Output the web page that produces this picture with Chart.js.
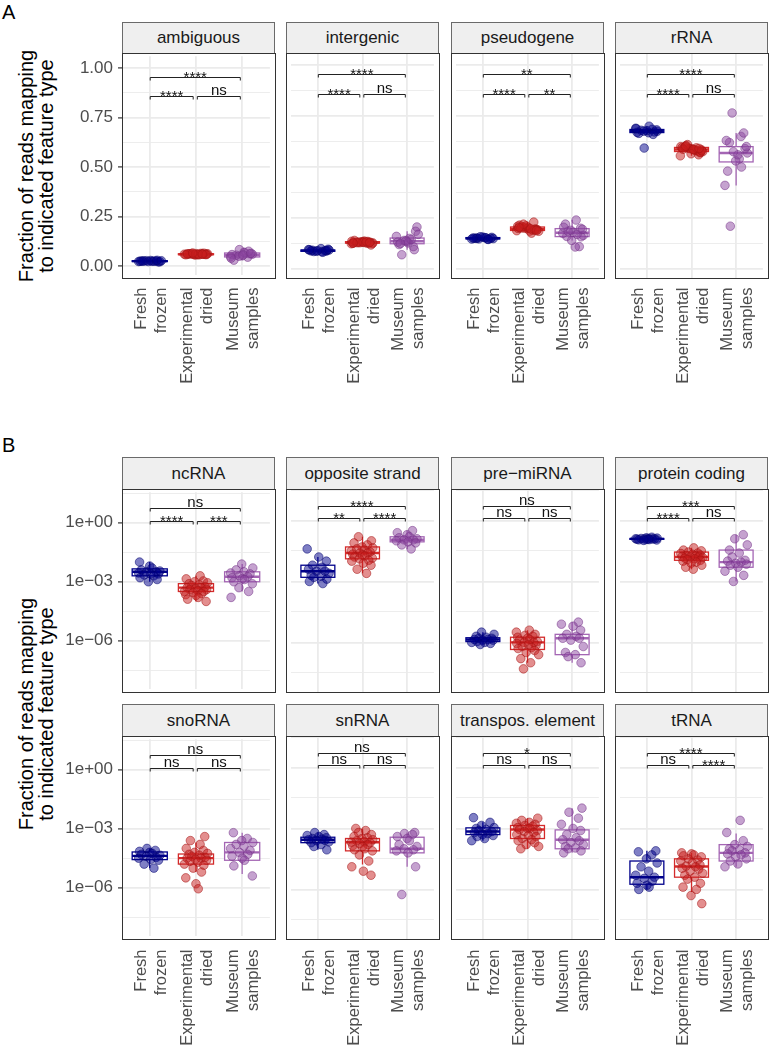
<!DOCTYPE html>
<html><head><meta charset="utf-8">
<script src="https://cdn.jsdelivr.net/npm/chart.js@4"></script>
<style>
html,body{margin:0;padding:0;background:#fff;}
#root{position:relative;width:769px;height:1050px;overflow:hidden;font-family:"Liberation Sans",Arial,sans-serif;}
canvas{position:absolute;}
.strip{position:absolute;box-sizing:border-box;background:#efefef;border:1px solid #6a6a6a;border-bottom:none;color:#1a1a1a;font-size:17px;display:flex;align-items:center;justify-content:center;white-space:nowrap;}
.frame{position:absolute;box-sizing:border-box;border:1.6px solid #333;pointer-events:none;}
.xl{position:absolute;width:120px;height:39px;line-height:19.5px;font-size:16.5px;color:#4d4d4d;text-align:right;transform:rotate(-90deg);white-space:nowrap;}
.ytitle{position:absolute;width:320px;height:40px;text-align:center;font-size:20px;line-height:20px;color:#000;transform:rotate(-90deg);white-space:nowrap;}
.letter{position:absolute;font-size:20px;line-height:20px;color:#000;}
</style></head><body><div id="root"></div>
<script>
// ---------------- DATA ----------------
const groupLines = [['Fresh','frozen'],['Experimental','dried'],['Museum','samples']];
const facetsA = ['ambiguous','intergenic','pseudogene','rRNA'];
const facetsB = ['ncRNA','opposite strand','pre\u2212miRNA','protein coding','snoRNA','snRNA','transpos. element','tRNA'];
const yTicksA = [0, 0.25, 0.5, 0.75, 1];
const yTickLabelsA = ['0.00','0.25','0.50','0.75','1.00'];
const yTicksB = [1e-6, 1e-3, 1];
const yTickLabelsB = ['1e\u221206','1e\u221203','1e+00'];
const yTitle = ['Fraction of reads mapping','to indicated feature type'];
const sigYA = [0.858, 0.956];   // lower brackets, top bracket
const sigYB = [1.26, 5.4];

// points per group: [Fresh frozen, Experimental dried, Museum samples]
// box stats per group: [lower whisker, Q1, median, Q3, upper whisker]
// significance: [fresh vs dried, dried vs museum, fresh vs museum]
const ambiguousPts = [
 [0.024,0.026,0.022,0.027,0.025,0.023,0.028,0.021,0.026,0.025,0.024,0.029,0.023,0.027,0.025],
 [0.060,0.058,0.062,0.061,0.057,0.063,0.059,0.060,0.064,0.056,0.061,0.062,0.058,0.060,0.065,0.059,0.061,0.057,0.063,0.060,0.062,0.058,0.066,0.060],
 [0.055,0.070,0.048,0.062,0.083,0.045,0.058,0.052,0.067,0.030,0.060,0.050,0.075,0.040,0.056,0.064]];
const ambiguousBox = [[0.021,0.023,0.025,0.027,0.029],[0.056,0.058,0.060,0.062,0.066],[0.030,0.046,0.056,0.066,0.083]];
const ambiguousSig = ['****','ns','****'];

const intergenicPts = [
 [0.088,0.092,0.085,0.095,0.090,0.087,0.093,0.089,0.100,0.086,0.091,0.094,0.082,0.090,0.097],
 [0.130,0.126,0.134,0.128,0.132,0.137,0.124,0.131,0.129,0.135,0.127,0.133,0.130,0.140,0.125,0.132,0.128,0.136,0.131,0.118,0.129,0.134,0.127,0.130],
 [0.135,0.150,0.120,0.206,0.140,0.110,0.160,0.128,0.185,0.070,0.145,0.132,0.095,0.138,0.170,0.125]];
const intergenicBox = [[0.082,0.087,0.090,0.093,0.100],[0.118,0.127,0.130,0.134,0.140],[0.095,0.124,0.136,0.152,0.185]];
const intergenicSig = ['****','ns','****'];

const pseudogenePts = [
 [0.150,0.153,0.148,0.155,0.151,0.146,0.157,0.149,0.152,0.154,0.147,0.150,0.158,0.145,0.152],
 [0.196,0.205,0.190,0.210,0.198,0.186,0.215,0.193,0.200,0.230,0.188,0.203,0.195,0.208,0.176,0.199,0.192,0.212,0.185,0.201,0.197,0.220,0.189,0.204],
 [0.180,0.200,0.160,0.240,0.175,0.110,0.190,0.165,0.220,0.108,0.185,0.158,0.205,0.170,0.140,0.195]];
const pseudogeneBox = [[0.145,0.148,0.151,0.154,0.158],[0.176,0.189,0.197,0.206,0.230],[0.140,0.159,0.178,0.198,0.240]];
const pseudogeneSig = ['****','**','**'];

const rRNAPts = [
 [0.675,0.680,0.668,0.690,0.672,0.593,0.685,0.670,0.678,0.700,0.665,0.682,0.676,0.660,0.688],
 [0.585,0.592,0.578,0.600,0.588,0.570,0.605,0.582,0.595,0.560,0.590,0.575,0.598,0.583,0.610,0.572,0.587,0.594,0.565,0.580,0.602,0.586,0.555,0.591],
 [0.569,0.620,0.540,0.765,0.590,0.480,0.650,0.530,0.600,0.210,0.560,0.410,0.667,0.575,0.500,0.630]];
const rRNABox = [[0.660,0.669,0.676,0.684,0.700],[0.555,0.576,0.586,0.596,0.610],[0.410,0.525,0.569,0.600,0.667]];
const rRNASig = ['****','ns','****'];

const ncRNAPts = [
 [1.0e-2,6.3e-3,5.0e-3,4.0e-3,3.5e-3,3.2e-3,3.2e-3,2.8e-3,2.5e-3,2.5e-3,2.2e-3,2.0e-3,1.6e-3,1.3e-3,1.0e-3],
 [2.0e-3,1.4e-3,1.1e-3,1.0e-3,8.9e-4,7.9e-4,7.1e-4,6.3e-4,5.6e-4,5.0e-4,5.0e-4,4.5e-4,4.0e-4,4.0e-4,3.5e-4,3.2e-4,3.2e-4,2.8e-4,2.5e-4,2.2e-4,2.0e-4,1.6e-4,1.3e-4,1.0e-4],
 [7.9e-3,5.0e-3,4.0e-3,3.2e-3,2.8e-3,2.5e-3,2.0e-3,1.8e-3,1.6e-3,1.4e-3,1.3e-3,1.0e-3,7.9e-4,5.0e-4,3.2e-4,1.6e-4]];
const ncRNABox = [[1.0e-3,2.0e-3,3.2e-3,4.5e-3,1.0e-2],[1.0e-4,3.2e-4,5.0e-4,8.0e-4,2.0e-3],[3.2e-4,1.0e-3,1.8e-3,3.2e-3,7.9e-3]];
const ncRNASig = ['****','***','ns'];

const oppositeStrandPts = [
 [4.0e-2,1.6e-2,1.0e-2,6.3e-3,5.0e-3,4.0e-3,3.2e-3,3.2e-3,2.5e-3,2.0e-3,1.8e-3,1.6e-3,1.3e-3,1.0e-3,7.9e-4],
 [0.158,0.1,7.9e-2,6.3e-2,5.0e-2,4.5e-2,4.0e-2,3.5e-2,3.2e-2,2.8e-2,2.5e-2,2.5e-2,2.2e-2,2.0e-2,1.8e-2,1.6e-2,1.4e-2,1.3e-2,1.1e-2,1.0e-2,7.9e-3,6.3e-3,4.0e-3,2.5e-3],
 [0.316,0.251,0.2,0.158,0.141,0.126,0.112,0.112,0.1,8.9e-2,7.9e-2,6.3e-2,4.0e-2]];
const oppositeStrandBox = [[7.9e-4,1.6e-3,3.2e-3,6.3e-3,1.6e-2],[2.5e-3,1.3e-2,2.5e-2,5.0e-2,0.158],[4.0e-2,8.9e-2,0.112,0.158,0.316]];
const oppositeStrandSig = ['**','****','****'];

const preMiRNAPts = [
 [3.2e-6,2.5e-6,2.0e-6,1.8e-6,1.6e-6,1.6e-6,1.4e-6,1.4e-6,1.3e-6,1.3e-6,1.1e-6,1.0e-6,1.0e-6,8.9e-7,7.9e-7],
 [4.0e-6,3.2e-6,2.5e-6,2.2e-6,2.0e-6,1.8e-6,1.6e-6,1.4e-6,1.3e-6,1.1e-6,1.0e-6,1.0e-6,8.9e-7,7.9e-7,7.1e-7,6.3e-7,5.6e-7,5.0e-7,4.0e-7,3.2e-7,2.5e-7,1.6e-7,1.0e-7,5.0e-8],
 [1.0e-5,7.9e-6,6.3e-6,4.0e-6,2.5e-6,2.0e-6,1.6e-6,1.6e-6,1.3e-6,6.3e-7,3.2e-7,2.5e-7,2.0e-7,1.0e-7]];
const preMiRNABox = [[7.9e-7,1.1e-6,1.4e-6,1.7e-6,3.2e-6],[1.0e-7,4.5e-7,1.0e-6,1.8e-6,4.0e-6],[1.0e-7,2.5e-7,1.6e-6,2.5e-6,1.0e-5]];
const preMiRNASig = ['ns','ns','ns'];

const proteinCodingPts = [
 [0.15,0.14,0.135,0.13,0.128,0.126,0.125,0.124,0.122,0.12,0.118,0.115,0.112,0.11,0.105],
 [4.5e-2,3.5e-2,3.2e-2,2.8e-2,2.5e-2,2.4e-2,2.2e-2,2.0e-2,1.9e-2,1.8e-2,1.7e-2,1.6e-2,1.6e-2,1.5e-2,1.4e-2,1.3e-2,1.2e-2,1.1e-2,1.0e-2,8.9e-3,7.9e-3,6.3e-3,5.0e-3,4.0e-3],
 [0.2,0.126,6.3e-2,3.5e-2,2.5e-2,1.6e-2,1.1e-2,1.0e-2,8.9e-3,7.9e-3,7.1e-3,6.3e-3,5.0e-3,3.2e-3,2.0e-3,1.0e-3]];
const proteinCodingBox = [[0.105,0.118,0.124,0.13,0.15],[4.0e-3,1.1e-2,1.6e-2,2.8e-2,4.5e-2],[1.0e-3,5.0e-3,8.9e-3,3.5e-2,0.2]];
const proteinCodingSig = ['****','ns','***'];

const snoRNAPts = [
 [1.0e-4,7.9e-5,7.1e-5,6.3e-5,5.6e-5,5.0e-5,4.5e-5,4.0e-5,3.5e-5,3.2e-5,2.8e-5,2.5e-5,1.6e-5,1.0e-5],
 [4.0e-4,2.5e-4,1.6e-4,1.0e-4,7.9e-5,6.3e-5,5.6e-5,5.0e-5,4.5e-5,4.0e-5,3.5e-5,3.2e-5,3.2e-5,2.8e-5,2.5e-5,2.2e-5,2.0e-5,1.6e-5,1.4e-5,1.0e-5,6.3e-6,3.2e-6,1.6e-6,8.9e-7],
 [6.3e-4,3.2e-4,2.5e-4,2.0e-4,1.6e-4,1.3e-4,1.0e-4,7.9e-5,6.3e-5,5.0e-5,4.0e-5,3.2e-5,2.5e-5,1.3e-5,4.0e-6]];
const snoRNABox = [[1.0e-5,2.7e-5,4.2e-5,6.6e-5,1.0e-4],[6.3e-6,1.6e-5,3.2e-5,5.2e-5,2.0e-4],[5.0e-6,2.5e-5,6.3e-5,2.0e-4,6.3e-4]];
const snoRNASig = ['ns','ns','ns'];

const snRNAPts = [
 [6.3e-4,5.0e-4,4.5e-4,4.0e-4,3.5e-4,3.2e-4,3.0e-4,2.8e-4,2.6e-4,2.5e-4,2.2e-4,2.0e-4,1.6e-4,1.3e-4,8.9e-5],
 [1.0e-3,7.9e-4,6.3e-4,5.0e-4,4.0e-4,3.5e-4,3.2e-4,2.8e-4,2.5e-4,2.2e-4,2.1e-4,2.0e-4,1.8e-4,1.6e-4,1.4e-4,1.3e-4,1.0e-4,8.9e-5,7.9e-5,5.0e-5,2.5e-5,1.3e-5,7.9e-6,5.0e-6],
 [6.3e-4,5.6e-4,5.0e-4,4.0e-4,3.2e-4,2.5e-4,1.6e-4,1.3e-4,1.0e-4,8.9e-5,7.9e-5,6.3e-5,1.3e-5,5.6e-7]];
const snRNABox = [[8.9e-5,2.0e-4,2.8e-4,3.7e-4,6.3e-4],[1.7e-5,7.9e-5,2.1e-4,3.2e-4,1.0e-3],[1.3e-5,6.3e-5,1.0e-4,3.7e-4,6.3e-4]];
const snRNASig = ['ns','ns','ns'];

const transposPts = [
 [3.4e-3,2.0e-3,1.4e-3,1.1e-3,1.0e-3,8.9e-4,7.9e-4,7.1e-4,6.3e-4,5.6e-4,5.0e-4,4.5e-4,4.0e-4,3.2e-4,2.5e-4],
 [3.2e-3,2.5e-3,2.0e-3,1.8e-3,1.6e-3,1.4e-3,1.3e-3,1.1e-3,1.0e-3,1.0e-3,8.9e-4,7.9e-4,7.1e-4,6.3e-4,5.0e-4,4.5e-4,4.0e-4,3.2e-4,2.8e-4,2.5e-4,2.0e-4,1.6e-4,1.3e-4,1.0e-4],
 [1.0e-2,6.3e-3,3.2e-3,1.6e-3,1.0e-3,7.9e-4,5.0e-4,3.5e-4,2.8e-4,2.5e-4,2.0e-4,1.6e-4,1.3e-4,1.1e-4,1.0e-4,7.9e-5,6.3e-5]];
const transposBox = [[2.5e-4,5.0e-4,7.1e-4,1.07e-3,2.0e-3],[1.0e-4,3.2e-4,8.9e-4,1.4e-3,3.2e-3],[6.3e-5,1.0e-4,2.8e-4,8.5e-4,1.0e-2]];
const transposSig = ['ns','ns','*'];

const tRNAPts = [
 [7.9e-5,7.1e-5,5.0e-5,3.2e-5,2.0e-5,1.3e-5,7.9e-6,5.0e-6,4.0e-6,3.5e-6,2.5e-6,2.0e-6,1.6e-6,1.3e-6,1.0e-6],
 [6.3e-5,5.6e-5,5.0e-5,4.5e-5,4.0e-5,3.2e-5,2.8e-5,2.5e-5,2.0e-5,1.6e-5,1.4e-5,1.3e-5,1.1e-5,1.0e-5,7.9e-6,6.3e-6,5.0e-6,4.0e-6,3.2e-6,2.0e-6,1.3e-6,1.0e-6,5.0e-7,2.0e-7],
 [2.5e-3,6.3e-4,2.5e-4,1.6e-4,1.3e-4,1.0e-4,8.9e-5,7.9e-5,6.3e-5,5.6e-5,5.0e-5,4.0e-5,3.2e-5,2.5e-5,1.8e-5,1.3e-5]];
const tRNABox = [[1.0e-6,1.8e-6,4.0e-6,2.5e-5,7.9e-5],[7.4e-7,4.0e-6,1.35e-5,3.2e-5,6.3e-5],[1.3e-5,2.5e-5,6.3e-5,1.6e-4,5.6e-4]];
const tRNASig = ['ns','****','****'];

// hand-typed horizontal jitter offsets (category units)
const JITTER = [0.05,-0.18,0.22,-0.07,0.14,-0.24,0.02,0.19,-0.12,0.09,-0.21,0.16,-0.03,0.25,-0.15,0.07,-0.09,0.20,-0.19,0.11,-0.01,0.23,-0.13,0.04,-0.25,0.17,-0.06,0.12,-0.22,0.00];

// ---------------- STYLE / LAYOUT ----------------
const POINT_FILL = ['rgba(0,0,139,0.5)','rgba(200,30,30,0.5)','rgba(140,70,160,0.5)'];
const POINT_EDGE = ['rgba(0,0,110,0.65)','rgba(165,20,20,0.65)','rgba(115,50,135,0.65)'];
const BOX_COL = ['#00008b','#d42b2b','#a466b4'];
const COLS_X = [122, 286, 451, 615];
const PW = 153, PAD = 12, YAXW = 62;
const FONT = '"Liberation Sans", Arial, sans-serif';
Chart.defaults.font.family = FONT;

const facetData = {
 'ambiguous':[ambiguousPts,ambiguousBox,ambiguousSig],
 'intergenic':[intergenicPts,intergenicBox,intergenicSig],
 'pseudogene':[pseudogenePts,pseudogeneBox,pseudogeneSig],
 'rRNA':[rRNAPts,rRNABox,rRNASig],
 'ncRNA':[ncRNAPts,ncRNABox,ncRNASig],
 'opposite strand':[oppositeStrandPts,oppositeStrandBox,oppositeStrandSig],
 'pre\u2212miRNA':[preMiRNAPts,preMiRNABox,preMiRNASig],
 'protein coding':[proteinCodingPts,proteinCodingBox,proteinCodingSig],
 'snoRNA':[snoRNAPts,snoRNABox,snoRNASig],
 'snRNA':[snRNAPts,snRNABox,snRNASig],
 'transpos. element':[transposPts,transposBox,transposSig],
 'tRNA':[tRNAPts,tRNABox,tRNASig]
};

const rows = [
 {strip:22, top:53, h:225, log:false, names:facetsA, xlab:287},
 {strip:457, top:489, h:203, log:true, names:facetsB.slice(0,4), xlab:null},
 {strip:704, top:736, h:203, log:true, names:facetsB.slice(4), xlab:949}
];

const boxPlugin = {
 id:'boxes',
 beforeDatasetsDraw(chart, args, opts){
  const {ctx, chartArea:a, scales:{x, y}} = chart;
  ctx.save();
  ctx.beginPath(); ctx.rect(a.left, a.top, a.right-a.left, a.bottom-a.top); ctx.clip();
  opts.stats.forEach((s, gi) => {
   const cx = x.getPixelForValue(gi+1);
   const xl = x.getPixelForValue(gi+1-0.38), xr = x.getPixelForValue(gi+1+0.38);
   const [lo,q1,md,q3,hi] = s.map(v => y.getPixelForValue(v));
   ctx.strokeStyle = BOX_COL[gi];
   ctx.lineWidth = 1.3;
   ctx.beginPath();
   ctx.moveTo(cx, q3); ctx.lineTo(cx, hi);
   ctx.moveTo(cx, q1); ctx.lineTo(cx, lo);
   ctx.stroke();
   ctx.fillStyle = '#fff';
   ctx.fillRect(xl, q3, xr-xl, q1-q3);
   ctx.strokeRect(xl, q3, xr-xl, q1-q3);
   ctx.lineWidth = 2.4;
   ctx.beginPath(); ctx.moveTo(xl, md); ctx.lineTo(xr, md); ctx.stroke();
  });
  ctx.restore();
 }
};

const sigPlugin = {
 id:'sig',
 afterDatasetsDraw(chart, args, opts){
  const {ctx, scales:{x, y}} = chart;
  const yl = y.getPixelForValue(opts.levels[0]);
  const yt = y.getPixelForValue(opts.levels[1]);
  const br = [[1.01,1.94,yl,opts.labels[0]],[2.03,2.96,yl,opts.labels[1]],[1.01,2.96,yt,opts.labels[2]]];
  ctx.save();
  ctx.strokeStyle = '#222'; ctx.lineWidth = 1;
  ctx.fillStyle = '#111';
  ctx.font = '15px ' + FONT;
  ctx.textAlign = 'center'; ctx.textBaseline = 'alphabetic';
  br.forEach(([a, b, yy, lab]) => {
   const x1 = x.getPixelForValue(a), x2 = x.getPixelForValue(b);
   const py = Math.round(yy) + 0.5;
   ctx.beginPath();
   ctx.moveTo(x1, py+3); ctx.lineTo(x1, py); ctx.lineTo(x2, py); ctx.lineTo(x2, py+3);
   ctx.stroke();
   const star = lab.indexOf('*') === 0;
   ctx.fillText(lab, (x1+x2)/2, star ? py+4 : py-1.5);
  });
  ctx.restore();
 }
};

const root = document.getElementById('root');
function addDiv(cls, html, css){
 const d = document.createElement('div'); d.className = cls; d.innerHTML = html;
 Object.assign(d.style, css); root.appendChild(d); return d;
}

let fIndex = 0;
rows.forEach((row) => {
 row.names.forEach((name, c) => {
  const [pts, box, sig] = facetData[name];
  const first = c === 0;
  const extra = first ? YAXW : 0;
  const cv = document.createElement('canvas');
  cv.width = PW + extra; cv.height = row.h + 2*PAD;
  cv.style.left = (COLS_X[c] - extra) + 'px';
  cv.style.top = (row.top - PAD) + 'px';
  root.appendChild(cv);

  const majors = row.log ? yTicksB : yTicksA;
  const majorLabels = row.log ? yTickLabelsB : yTickLabelsA;
  const minors = row.log ? [Math.pow(10,-7.5),Math.pow(10,-4.5),Math.pow(10,-1.5),Math.pow(10,1.5)] : [0.125,0.375,0.625,0.875];
  const fi = fIndex++;
  const datasets = pts.map((arr, gi) => ({
   data: arr.map((v, i) => ({x: gi + 1 + JITTER[(i + 7*fi + 11*gi) % JITTER.length], y: v})),
   pointRadius: 4.3,
   pointBackgroundColor: POINT_FILL[gi],
   pointBorderColor: POINT_EDGE[gi],
   pointBorderWidth: 0.8,
   showLine: false
  }));

  const chart = new Chart(cv, {
   type: 'scatter',
   data: {datasets},
   options: {
    responsive: false, animation: false, events: [],
    layout: {padding: {top: PAD, bottom: PAD, left: 0, right: 0}},
    plugins: {legend: {display: false}, tooltip: {enabled: false},
      boxes: {stats: box}, sig: {labels: sig, levels: row.log ? sigYB : sigYA}},
    scales: {
     x: {type: 'linear', min: 0.4, max: 3.6,
      afterBuildTicks: s => { s.ticks = [1,2,3].map(v => ({value: v})); },
      afterFit: s => { s.height = 0; },
      ticks: {display: false},
      grid: {color: '#ebebeb', lineWidth: 1.8, drawTicks: false},
      border: {display: false}},
     y: {type: row.log ? 'logarithmic' : 'linear',
      min: row.log ? Math.pow(10,-8.44) : -0.044,
      max: row.log ? Math.pow(10,1.55) : 1.059,
      afterBuildTicks: s => {
       const t = majors.map(v => ({value: v})).concat(minors.map(v => ({value: v, minor: true})));
       t.sort((a, b) => a.value - b.value);
       s.ticks = t;
      },
      afterFit: s => { s.width = extra; },
      ticks: {display: first, autoSkip: false, color: '#4d4d4d', padding: 5,
       font: {size: 17, family: FONT},
       callback: (v, i, ticks) => {
        if (ticks[i].minor) return '';
        const k = majors.findIndex(m => Math.abs(m - v) <= Math.abs(m) * 1e-6 + 1e-12);
        return k >= 0 ? majorLabels[k] : '';
       }},
      grid: {color: '#ebebeb', drawTicks: first, tickLength: 4, tickWidth: 1.2,
       lineWidth: ctx => (ctx.tick && ctx.tick.minor) ? 0.9 : 1.8,
       tickColor: ctx => (ctx.tick && ctx.tick.minor) ? 'rgba(0,0,0,0)' : '#333'},
      border: {display: false}}
    }
   },
   plugins: [boxPlugin, sigPlugin]
  });

  // strip and frame
  addDiv('strip', name, {left: COLS_X[c]+'px', top: row.strip+'px', width: PW+'px', height: (row.top-row.strip)+'px'});
  addDiv('frame', '', {left: (COLS_X[c]-0.5)+'px', top: (row.top-0.5)+'px', width: (PW+1)+'px', height: (row.h+1)+'px'});

  // rotated x labels (bottom row of each panel)
  if (row.xlab !== null) {
   groupLines.forEach((lines, gi) => {
    const cx = COLS_X[c] - extra + chart.scales.x.getPixelForValue(gi+1);
    addDiv('xl', lines.join('<br>'), {left: (cx-60)+'px', top: (row.xlab+60-19.5)+'px'});
   });
  }
 });
});

// y axis titles
addDiv('ytitle', yTitle.join('<br>'), {left: (36-160)+'px', top: (165.5-20)+'px'});
addDiv('ytitle', yTitle.join('<br>'), {left: (36-160)+'px', top: (714-20)+'px'});
// panel letters
addDiv('letter', 'A', {left: '2px', top: '2px'});
addDiv('letter', 'B', {left: '2px', top: '435px'});
</script></body></html>
